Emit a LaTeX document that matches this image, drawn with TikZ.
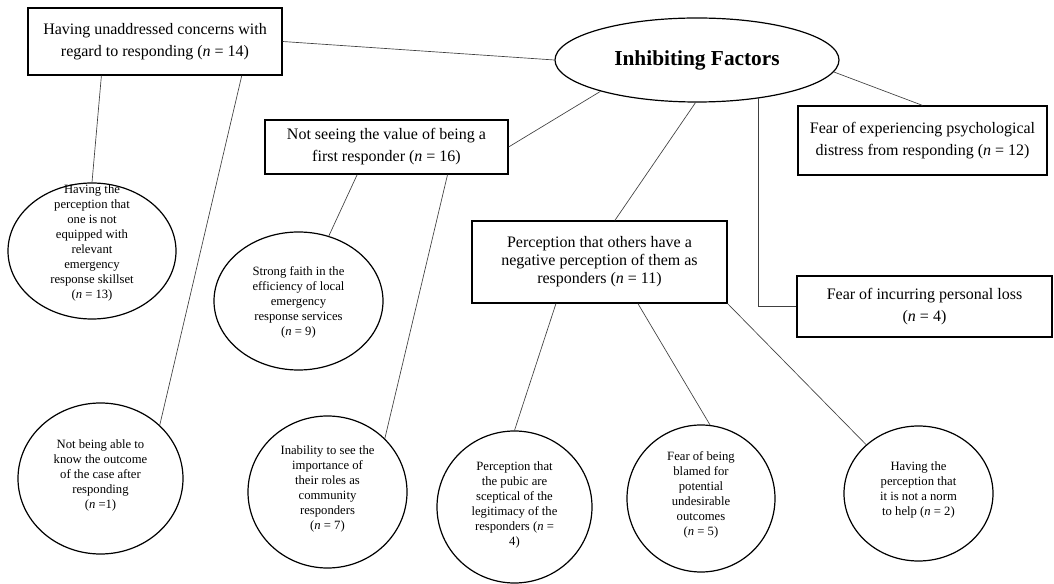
\documentclass[tikz,border=0pt]{standalone}
\usepackage{fontspec}
\setmainfont{Liberation Serif}
\usetikzlibrary{shapes.geometric,calc}

% testo nei cerchi: non conta per la misura dell'ellisse
\newcommand{\circtext}[2][0pt]{\raisebox{#1}{\smash{\begin{tabular}{@{}c@{}}#2\end{tabular}}}}

\begin{document}
\begin{tikzpicture}[
        x=0.75pt, y=-0.75pt,
        % Stili generali
        box/.style={draw=black, line width=0.9pt, align=center, inner sep=0pt, font=\fontsize{12}{16.5}\selectfont},
        circ/.style={ellipse, draw=black, line width=0.9pt, inner sep=0pt, font=\fontsize{9.5}{11.25}\selectfont},
        core/.style={ellipse, draw=black, line width=0.9pt, inner sep=0pt, font=\fontsize{16}{19}\selectfont\bfseries},
        link/.style={black!75, line width=0.5pt}
    ]

    \useasboundingbox (0,0) rectangle (1054,584);

    % 1. Nodo centrale
    \node[core, minimum width=213pt, minimum height=63pt] (inhib) at (697,60) {Inhibiting Factors};

    % 2. Fattori (rettangoli)
    \node[box, minimum width=190.5pt, minimum height=50.25pt] (unaddr) at (155,41.5)
        {Having unaddressed concerns with\\regard to responding (\textit{n} = 14)};
    \node[box, minimum width=182.25pt, minimum height=40.5pt] (notsee) at (386.5,147)
        {Not seeing the value of being a\\first responder (\textit{n} = 16)};
    \node[box, minimum width=186.75pt, minimum height=51.75pt] (fearpsy) at (922.5,140.5)
        {Fear of experiencing psychological\\distress from responding (\textit{n} = 12)};
    \node[box, minimum width=191.25pt, minimum height=45.75pt] (loss) at (924.5,306.5)
        {Fear of incurring personal loss\\(\textit{n} = 4)};
    \node[box, minimum width=191.25pt, minimum height=61.5pt, font=\fontsize{12}{13.5}\selectfont] (percep) at (599.5,262)
        {Perception that others have a\\negative perception of them as\\responders (\textit{n} = 11)};

    % 3. Sotto-fattori (cerchi)
    \node[circ, minimum width=126pt, minimum height=102pt] (equip) at (92,251)
        {\circtext[7.5pt]{Having the\\perception that\\one is not\\equipped with\\relevant\\emergency\\response skillset\\(\textit{n} = 13)}};
    \node[circ, minimum width=123.75pt, minimum height=113.25pt] (outcome) at (100.5,478.5)
        {\circtext{Not being able to\\know the outcome\\of the case after\\responding\\(\textit{n} =1)}};
    \node[circ, minimum width=126.75pt, minimum height=103.5pt] (faith) at (298.5,301)
        {\circtext[-6.75pt]{Strong faith in the\\efficiency of local\\emergency\\response services\\(\textit{n} = 9)}};
    \node[circ, minimum width=119.25pt, minimum height=114pt] (inability) at (327.5,492)
        {\circtext{Inability to see the\\importance of\\their roles as\\community\\responders\\(\textit{n} = 7)}};
    \node[circ, minimum width=116.25pt, minimum height=114pt] (sceptic) at (514.5,507)
        {\circtext[-2pt]{Perception that\\the pubic are\\sceptical of the\\legitimacy of the\\responders (\textit{n} =\\4)}};
    \node[circ, minimum width=111pt, minimum height=110.25pt] (blamed) at (701,498.5)
        {\circtext{Fear of being\\blamed for\\potential\\undesirable\\outcomes\\(\textit{n} = 5)}};
    \node[circ, minimum width=111.75pt, minimum height=101.25pt] (norm) at (918.5,493.5)
        {\circtext{Having the\\perception that\\it is not a norm\\to help (\textit{n} = 2)}};

    % 4. Collegamenti dal nodo centrale
    \draw[link] (unaddr.east) -- (inhib.west);
    \draw[link] (inhib.198) -- (notsee.east);
    \draw[link] (inhib.268) -- ($(percep.north west)!0.56!(percep.north east)$);
    \draw[link] (inhib.328) |- (loss.west);
    \draw[link] (inhib.355) -- (fearpsy.north);

    % 5. Collegamenti ai sotto-fattori
    \draw[link] ($(unaddr.south west)!0.29!(unaddr.south east)$) -- (equip.north);
    \draw[link] ($(unaddr.south west)!0.84!(unaddr.south east)$) -- (outcome.42);
    \draw[link] ($(notsee.south west)!0.38!(notsee.south east)$) -- (faith.65);
    \draw[link] ($(notsee.south west)!0.75!(notsee.south east)$) -- (inability.43);
    \draw[link] ($(percep.south west)!0.33!(percep.south east)$) -- (sceptic.north);
    \draw[link] ($(percep.south west)!0.65!(percep.south east)$) -- (blamed.83);
    \draw[link] (percep.south east) -- (norm.137);

\end{tikzpicture}
\end{document}
